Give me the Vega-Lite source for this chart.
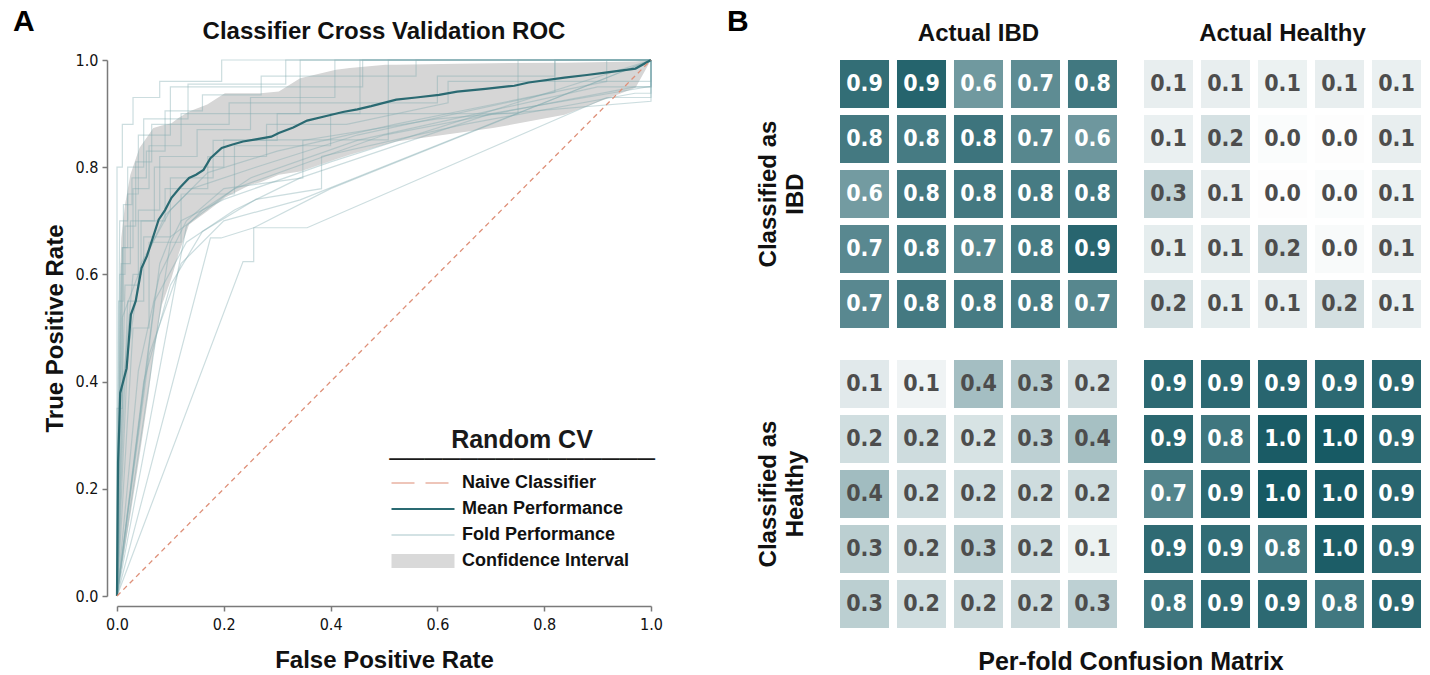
{
  "$schema": "https://vega.github.io/schema/vega-lite/v6.json",
  "background": "#ffffff",
  "padding": {"left": 13, "top": 7, "right": 5, "bottom": 2},
  "title": {"text": "A", "anchor": "start", "frame": "bounds", "fontSize": 30, "fontWeight": "bold", "font": "Liberation Sans", "color": "#000000", "dx": -30, "dy": 30, "offset": 0},
  "config": {
    "view": {"stroke": null},
    "font": "Liberation Sans",
    "axis": {
      "grid": false,
      "labelFlush": false,
      "domainColor": "#7a7a7a",
      "domainWidth": 1.5,
      "tickColor": "#7a7a7a",
      "tickWidth": 1.5,
      "tickSize": 5,
      "labelFont": "Liberation Sans Narrow, DejaVu Sans Condensed, sans-serif",
      "labelFontSize": 16,
      "labelColor": "#111111",
      "titleFont": "Liberation Sans",
      "titleFontSize": 24,
      "titleFontWeight": "bold",
      "titleColor": "#111111"
    }
  },
  "datasets": {
    "naive": [
      {"series": "Naive Classifier", "fpr": 0, "tpr": 0},
      {"series": "Naive Classifier", "fpr": 1, "tpr": 1}
    ],
    "mean": [
      {"series": "Mean Performance", "fpr": 0, "tpr": 0},
      {"series": "Mean Performance", "fpr": 0.001, "tpr": 0.13},
      {"series": "Mean Performance", "fpr": 0.002, "tpr": 0.25},
      {"series": "Mean Performance", "fpr": 0.004, "tpr": 0.31},
      {"series": "Mean Performance", "fpr": 0.006, "tpr": 0.379},
      {"series": "Mean Performance", "fpr": 0.018, "tpr": 0.425},
      {"series": "Mean Performance", "fpr": 0.026, "tpr": 0.525},
      {"series": "Mean Performance", "fpr": 0.035, "tpr": 0.55},
      {"series": "Mean Performance", "fpr": 0.046, "tpr": 0.612},
      {"series": "Mean Performance", "fpr": 0.056, "tpr": 0.634},
      {"series": "Mean Performance", "fpr": 0.066, "tpr": 0.665},
      {"series": "Mean Performance", "fpr": 0.078, "tpr": 0.702},
      {"series": "Mean Performance", "fpr": 0.09, "tpr": 0.72},
      {"series": "Mean Performance", "fpr": 0.102, "tpr": 0.743},
      {"series": "Mean Performance", "fpr": 0.118, "tpr": 0.762},
      {"series": "Mean Performance", "fpr": 0.135, "tpr": 0.78},
      {"series": "Mean Performance", "fpr": 0.148, "tpr": 0.786},
      {"series": "Mean Performance", "fpr": 0.162, "tpr": 0.795},
      {"series": "Mean Performance", "fpr": 0.175, "tpr": 0.817},
      {"series": "Mean Performance", "fpr": 0.196, "tpr": 0.836},
      {"series": "Mean Performance", "fpr": 0.215, "tpr": 0.842},
      {"series": "Mean Performance", "fpr": 0.236, "tpr": 0.848},
      {"series": "Mean Performance", "fpr": 0.26, "tpr": 0.852},
      {"series": "Mean Performance", "fpr": 0.289, "tpr": 0.857},
      {"series": "Mean Performance", "fpr": 0.303, "tpr": 0.864},
      {"series": "Mean Performance", "fpr": 0.33, "tpr": 0.874},
      {"series": "Mean Performance", "fpr": 0.356, "tpr": 0.887},
      {"series": "Mean Performance", "fpr": 0.39, "tpr": 0.895},
      {"series": "Mean Performance", "fpr": 0.423, "tpr": 0.903},
      {"series": "Mean Performance", "fpr": 0.45, "tpr": 0.908},
      {"series": "Mean Performance", "fpr": 0.476, "tpr": 0.914},
      {"series": "Mean Performance", "fpr": 0.523, "tpr": 0.926},
      {"series": "Mean Performance", "fpr": 0.56, "tpr": 0.93},
      {"series": "Mean Performance", "fpr": 0.603, "tpr": 0.935},
      {"series": "Mean Performance", "fpr": 0.637, "tpr": 0.941},
      {"series": "Mean Performance", "fpr": 0.69, "tpr": 0.946},
      {"series": "Mean Performance", "fpr": 0.744, "tpr": 0.952},
      {"series": "Mean Performance", "fpr": 0.771, "tpr": 0.958},
      {"series": "Mean Performance", "fpr": 0.838, "tpr": 0.967},
      {"series": "Mean Performance", "fpr": 0.88, "tpr": 0.972},
      {"series": "Mean Performance", "fpr": 0.918, "tpr": 0.977},
      {"series": "Mean Performance", "fpr": 0.971, "tpr": 0.984},
      {"series": "Mean Performance", "fpr": 1, "tpr": 1}
    ],
    "ci": [
      {"fpr": 0, "lo": 0, "hi": 0},
      {"fpr": 0.002, "lo": 0.012, "hi": 0.25},
      {"fpr": 0.004, "lo": 0.024, "hi": 0.45},
      {"fpr": 0.006, "lo": 0.036, "hi": 0.6},
      {"fpr": 0.008, "lo": 0.048, "hi": 0.668},
      {"fpr": 0.015, "lo": 0.09, "hi": 0.73},
      {"fpr": 0.025, "lo": 0.15, "hi": 0.786},
      {"fpr": 0.042, "lo": 0.26, "hi": 0.836},
      {"fpr": 0.059, "lo": 0.376, "hi": 0.86},
      {"fpr": 0.068, "lo": 0.45, "hi": 0.873},
      {"fpr": 0.084, "lo": 0.543, "hi": 0.878},
      {"fpr": 0.102, "lo": 0.593, "hi": 0.882},
      {"fpr": 0.115, "lo": 0.637, "hi": 0.892},
      {"fpr": 0.135, "lo": 0.693, "hi": 0.904},
      {"fpr": 0.169, "lo": 0.718, "hi": 0.917},
      {"fpr": 0.202, "lo": 0.743, "hi": 0.938},
      {"fpr": 0.249, "lo": 0.767, "hi": 0.938},
      {"fpr": 0.269, "lo": 0.772, "hi": 0.938},
      {"fpr": 0.303, "lo": 0.786, "hi": 0.941},
      {"fpr": 0.343, "lo": 0.792, "hi": 0.966},
      {"fpr": 0.41, "lo": 0.815, "hi": 0.982},
      {"fpr": 0.436, "lo": 0.823, "hi": 0.985},
      {"fpr": 0.503, "lo": 0.843, "hi": 0.991},
      {"fpr": 0.523, "lo": 0.848, "hi": 0.991},
      {"fpr": 0.637, "lo": 0.864, "hi": 0.993},
      {"fpr": 0.704, "lo": 0.873, "hi": 0.994},
      {"fpr": 0.838, "lo": 0.898, "hi": 0.995},
      {"fpr": 0.971, "lo": 0.948, "hi": 0.997},
      {"fpr": 1, "lo": 1, "hi": 1}
    ],
    "folds": [
      {"fold": 1, "series": "Fold Performance", "fpr": 0, "tpr": 0},
      {"fold": 1, "series": "Fold Performance", "fpr": 0, "tpr": 0.8},
      {"fold": 1, "series": "Fold Performance", "fpr": 0.01, "tpr": 0.8},
      {"fold": 1, "series": "Fold Performance", "fpr": 0.01, "tpr": 0.88},
      {"fold": 1, "series": "Fold Performance", "fpr": 0.03, "tpr": 0.88},
      {"fold": 1, "series": "Fold Performance", "fpr": 0.03, "tpr": 0.93},
      {"fold": 1, "series": "Fold Performance", "fpr": 0.08, "tpr": 0.93},
      {"fold": 1, "series": "Fold Performance", "fpr": 0.08, "tpr": 0.96},
      {"fold": 1, "series": "Fold Performance", "fpr": 0.196, "tpr": 0.96},
      {"fold": 1, "series": "Fold Performance", "fpr": 0.196, "tpr": 1},
      {"fold": 1, "series": "Fold Performance", "fpr": 1, "tpr": 1},
      {"fold": 2, "series": "Fold Performance", "fpr": 0, "tpr": 0},
      {"fold": 2, "series": "Fold Performance", "fpr": 0.005, "tpr": 0.7},
      {"fold": 2, "series": "Fold Performance", "fpr": 0.02, "tpr": 0.7},
      {"fold": 2, "series": "Fold Performance", "fpr": 0.02, "tpr": 0.8},
      {"fold": 2, "series": "Fold Performance", "fpr": 0.05, "tpr": 0.8},
      {"fold": 2, "series": "Fold Performance", "fpr": 0.05, "tpr": 0.89},
      {"fold": 2, "series": "Fold Performance", "fpr": 0.133, "tpr": 0.89},
      {"fold": 2, "series": "Fold Performance", "fpr": 0.133, "tpr": 0.955},
      {"fold": 2, "series": "Fold Performance", "fpr": 0.316, "tpr": 0.955},
      {"fold": 2, "series": "Fold Performance", "fpr": 0.316, "tpr": 1},
      {"fold": 2, "series": "Fold Performance", "fpr": 1, "tpr": 1},
      {"fold": 3, "series": "Fold Performance", "fpr": 0, "tpr": 0},
      {"fold": 3, "series": "Fold Performance", "fpr": 0.01, "tpr": 0.65},
      {"fold": 3, "series": "Fold Performance", "fpr": 0.03, "tpr": 0.65},
      {"fold": 3, "series": "Fold Performance", "fpr": 0.03, "tpr": 0.76},
      {"fold": 3, "series": "Fold Performance", "fpr": 0.06, "tpr": 0.76},
      {"fold": 3, "series": "Fold Performance", "fpr": 0.06, "tpr": 0.84},
      {"fold": 3, "series": "Fold Performance", "fpr": 0.12, "tpr": 0.84},
      {"fold": 3, "series": "Fold Performance", "fpr": 0.12, "tpr": 0.9},
      {"fold": 3, "series": "Fold Performance", "fpr": 0.343, "tpr": 0.9},
      {"fold": 3, "series": "Fold Performance", "fpr": 0.343, "tpr": 1},
      {"fold": 3, "series": "Fold Performance", "fpr": 1, "tpr": 1},
      {"fold": 4, "series": "Fold Performance", "fpr": 0, "tpr": 0},
      {"fold": 4, "series": "Fold Performance", "fpr": 0.015, "tpr": 0.58},
      {"fold": 4, "series": "Fold Performance", "fpr": 0.04, "tpr": 0.58},
      {"fold": 4, "series": "Fold Performance", "fpr": 0.04, "tpr": 0.72},
      {"fold": 4, "series": "Fold Performance", "fpr": 0.08, "tpr": 0.72},
      {"fold": 4, "series": "Fold Performance", "fpr": 0.08, "tpr": 0.82},
      {"fold": 4, "series": "Fold Performance", "fpr": 0.15, "tpr": 0.82},
      {"fold": 4, "series": "Fold Performance", "fpr": 0.15, "tpr": 0.87},
      {"fold": 4, "series": "Fold Performance", "fpr": 0.25, "tpr": 0.87},
      {"fold": 4, "series": "Fold Performance", "fpr": 0.25, "tpr": 0.93},
      {"fold": 4, "series": "Fold Performance", "fpr": 0.408, "tpr": 0.93},
      {"fold": 4, "series": "Fold Performance", "fpr": 0.408, "tpr": 1},
      {"fold": 4, "series": "Fold Performance", "fpr": 1, "tpr": 1},
      {"fold": 5, "series": "Fold Performance", "fpr": 0, "tpr": 0},
      {"fold": 5, "series": "Fold Performance", "fpr": 0.02, "tpr": 0.55},
      {"fold": 5, "series": "Fold Performance", "fpr": 0.05, "tpr": 0.55},
      {"fold": 5, "series": "Fold Performance", "fpr": 0.05, "tpr": 0.67},
      {"fold": 5, "series": "Fold Performance", "fpr": 0.1, "tpr": 0.67},
      {"fold": 5, "series": "Fold Performance", "fpr": 0.1, "tpr": 0.78},
      {"fold": 5, "series": "Fold Performance", "fpr": 0.18, "tpr": 0.78},
      {"fold": 5, "series": "Fold Performance", "fpr": 0.18, "tpr": 0.85},
      {"fold": 5, "series": "Fold Performance", "fpr": 0.3, "tpr": 0.85},
      {"fold": 5, "series": "Fold Performance", "fpr": 0.3, "tpr": 0.9},
      {"fold": 5, "series": "Fold Performance", "fpr": 0.455, "tpr": 0.9},
      {"fold": 5, "series": "Fold Performance", "fpr": 0.455, "tpr": 1},
      {"fold": 5, "series": "Fold Performance", "fpr": 1, "tpr": 1},
      {"fold": 6, "series": "Fold Performance", "fpr": 0, "tpr": 0},
      {"fold": 6, "series": "Fold Performance", "fpr": 0.008, "tpr": 0.62},
      {"fold": 6, "series": "Fold Performance", "fpr": 0.025, "tpr": 0.62},
      {"fold": 6, "series": "Fold Performance", "fpr": 0.025, "tpr": 0.7},
      {"fold": 6, "series": "Fold Performance", "fpr": 0.07, "tpr": 0.7},
      {"fold": 6, "series": "Fold Performance", "fpr": 0.07, "tpr": 0.8},
      {"fold": 6, "series": "Fold Performance", "fpr": 0.2, "tpr": 0.8},
      {"fold": 6, "series": "Fold Performance", "fpr": 0.2, "tpr": 0.851},
      {"fold": 6, "series": "Fold Performance", "fpr": 0.508, "tpr": 0.851},
      {"fold": 6, "series": "Fold Performance", "fpr": 0.508, "tpr": 1},
      {"fold": 6, "series": "Fold Performance", "fpr": 1, "tpr": 1},
      {"fold": 7, "series": "Fold Performance", "fpr": 0, "tpr": 0},
      {"fold": 7, "series": "Fold Performance", "fpr": 0.03, "tpr": 0.5},
      {"fold": 7, "series": "Fold Performance", "fpr": 0.06, "tpr": 0.5},
      {"fold": 7, "series": "Fold Performance", "fpr": 0.06, "tpr": 0.66},
      {"fold": 7, "series": "Fold Performance", "fpr": 0.12, "tpr": 0.66},
      {"fold": 7, "series": "Fold Performance", "fpr": 0.12, "tpr": 0.75},
      {"fold": 7, "series": "Fold Performance", "fpr": 0.22, "tpr": 0.75},
      {"fold": 7, "series": "Fold Performance", "fpr": 0.22, "tpr": 0.84},
      {"fold": 7, "series": "Fold Performance", "fpr": 0.4, "tpr": 0.84},
      {"fold": 7, "series": "Fold Performance", "fpr": 0.4, "tpr": 0.9},
      {"fold": 7, "series": "Fold Performance", "fpr": 0.751, "tpr": 0.9},
      {"fold": 7, "series": "Fold Performance", "fpr": 0.751, "tpr": 1},
      {"fold": 7, "series": "Fold Performance", "fpr": 1, "tpr": 1},
      {"fold": 8, "series": "Fold Performance", "fpr": 0, "tpr": 0},
      {"fold": 8, "series": "Fold Performance", "fpr": 0.01, "tpr": 0.52},
      {"fold": 8, "series": "Fold Performance", "fpr": 0.04, "tpr": 0.6},
      {"fold": 8, "series": "Fold Performance", "fpr": 0.09, "tpr": 0.71},
      {"fold": 8, "series": "Fold Performance", "fpr": 0.14, "tpr": 0.76},
      {"fold": 8, "series": "Fold Performance", "fpr": 0.26, "tpr": 0.8},
      {"fold": 8, "series": "Fold Performance", "fpr": 0.45, "tpr": 0.86},
      {"fold": 8, "series": "Fold Performance", "fpr": 0.82, "tpr": 0.94},
      {"fold": 8, "series": "Fold Performance", "fpr": 0.82, "tpr": 1},
      {"fold": 8, "series": "Fold Performance", "fpr": 1, "tpr": 1},
      {"fold": 9, "series": "Fold Performance", "fpr": 0, "tpr": 0},
      {"fold": 9, "series": "Fold Performance", "fpr": 0.02, "tpr": 0.45},
      {"fold": 9, "series": "Fold Performance", "fpr": 0.045, "tpr": 0.62},
      {"fold": 9, "series": "Fold Performance", "fpr": 0.1, "tpr": 0.72},
      {"fold": 9, "series": "Fold Performance", "fpr": 0.17, "tpr": 0.79},
      {"fold": 9, "series": "Fold Performance", "fpr": 0.3, "tpr": 0.83},
      {"fold": 9, "series": "Fold Performance", "fpr": 0.52, "tpr": 0.88},
      {"fold": 9, "series": "Fold Performance", "fpr": 0.917, "tpr": 0.96},
      {"fold": 9, "series": "Fold Performance", "fpr": 0.917, "tpr": 1},
      {"fold": 9, "series": "Fold Performance", "fpr": 1, "tpr": 1},
      {"fold": 10, "series": "Fold Performance", "fpr": 0, "tpr": 0},
      {"fold": 10, "series": "Fold Performance", "fpr": 0.04, "tpr": 0.42},
      {"fold": 10, "series": "Fold Performance", "fpr": 0.08, "tpr": 0.6},
      {"fold": 10, "series": "Fold Performance", "fpr": 0.13, "tpr": 0.7},
      {"fold": 10, "series": "Fold Performance", "fpr": 0.2, "tpr": 0.76},
      {"fold": 10, "series": "Fold Performance", "fpr": 0.348, "tpr": 0.78},
      {"fold": 10, "series": "Fold Performance", "fpr": 0.348, "tpr": 0.85},
      {"fold": 10, "series": "Fold Performance", "fpr": 0.6, "tpr": 0.89},
      {"fold": 10, "series": "Fold Performance", "fpr": 1, "tpr": 0.923},
      {"fold": 10, "series": "Fold Performance", "fpr": 1, "tpr": 1},
      {"fold": 11, "series": "Fold Performance", "fpr": 0, "tpr": 0},
      {"fold": 11, "series": "Fold Performance", "fpr": 0.05, "tpr": 0.4},
      {"fold": 11, "series": "Fold Performance", "fpr": 0.1, "tpr": 0.58},
      {"fold": 11, "series": "Fold Performance", "fpr": 0.16, "tpr": 0.68},
      {"fold": 11, "series": "Fold Performance", "fpr": 0.26, "tpr": 0.74},
      {"fold": 11, "series": "Fold Performance", "fpr": 0.383, "tpr": 0.76},
      {"fold": 11, "series": "Fold Performance", "fpr": 0.383, "tpr": 0.82},
      {"fold": 11, "series": "Fold Performance", "fpr": 0.65, "tpr": 0.88},
      {"fold": 11, "series": "Fold Performance", "fpr": 0.97, "tpr": 0.938},
      {"fold": 11, "series": "Fold Performance", "fpr": 1, "tpr": 0.938},
      {"fold": 11, "series": "Fold Performance", "fpr": 1, "tpr": 1},
      {"fold": 12, "series": "Fold Performance", "fpr": 0, "tpr": 0},
      {"fold": 12, "series": "Fold Performance", "fpr": 0.06, "tpr": 0.45},
      {"fold": 12, "series": "Fold Performance", "fpr": 0.12, "tpr": 0.62},
      {"fold": 12, "series": "Fold Performance", "fpr": 0.2, "tpr": 0.7},
      {"fold": 12, "series": "Fold Performance", "fpr": 0.343, "tpr": 0.739},
      {"fold": 12, "series": "Fold Performance", "fpr": 1, "tpr": 1},
      {"fold": 13, "series": "Fold Performance", "fpr": 0, "tpr": 0},
      {"fold": 13, "series": "Fold Performance", "fpr": 0.07, "tpr": 0.55},
      {"fold": 13, "series": "Fold Performance", "fpr": 0.13, "tpr": 0.66},
      {"fold": 13, "series": "Fold Performance", "fpr": 0.22, "tpr": 0.72},
      {"fold": 13, "series": "Fold Performance", "fpr": 0.343, "tpr": 0.78},
      {"fold": 13, "series": "Fold Performance", "fpr": 0.7, "tpr": 0.9},
      {"fold": 13, "series": "Fold Performance", "fpr": 1, "tpr": 0.951},
      {"fold": 13, "series": "Fold Performance", "fpr": 1, "tpr": 1},
      {"fold": 14, "series": "Fold Performance", "fpr": 0, "tpr": 0},
      {"fold": 14, "series": "Fold Performance", "fpr": 0.175, "tpr": 0.668},
      {"fold": 14, "series": "Fold Performance", "fpr": 0.195, "tpr": 0.668},
      {"fold": 14, "series": "Fold Performance", "fpr": 0.256, "tpr": 0.687},
      {"fold": 14, "series": "Fold Performance", "fpr": 0.356, "tpr": 0.687},
      {"fold": 14, "series": "Fold Performance", "fpr": 0.917, "tpr": 0.93},
      {"fold": 14, "series": "Fold Performance", "fpr": 1, "tpr": 0.93},
      {"fold": 14, "series": "Fold Performance", "fpr": 1, "tpr": 1},
      {"fold": 15, "series": "Fold Performance", "fpr": 0, "tpr": 0},
      {"fold": 15, "series": "Fold Performance", "fpr": 0.236, "tpr": 0.624},
      {"fold": 15, "series": "Fold Performance", "fpr": 0.256, "tpr": 0.624},
      {"fold": 15, "series": "Fold Performance", "fpr": 0.256, "tpr": 0.687},
      {"fold": 15, "series": "Fold Performance", "fpr": 0.4, "tpr": 0.76},
      {"fold": 15, "series": "Fold Performance", "fpr": 1, "tpr": 1},
      {"fold": 16, "series": "Fold Performance", "fpr": 0, "tpr": 0},
      {"fold": 16, "series": "Fold Performance", "fpr": 0.13, "tpr": 0.69},
      {"fold": 16, "series": "Fold Performance", "fpr": 0.16, "tpr": 0.72},
      {"fold": 16, "series": "Fold Performance", "fpr": 0.25, "tpr": 0.78},
      {"fold": 16, "series": "Fold Performance", "fpr": 0.45, "tpr": 0.85},
      {"fold": 16, "series": "Fold Performance", "fpr": 0.9, "tpr": 0.95},
      {"fold": 16, "series": "Fold Performance", "fpr": 1, "tpr": 0.95},
      {"fold": 16, "series": "Fold Performance", "fpr": 1, "tpr": 1},
      {"fold": 17, "series": "Fold Performance", "fpr": 0, "tpr": 0},
      {"fold": 17, "series": "Fold Performance", "fpr": 0.1, "tpr": 0.66},
      {"fold": 17, "series": "Fold Performance", "fpr": 0.12, "tpr": 0.7},
      {"fold": 17, "series": "Fold Performance", "fpr": 0.2, "tpr": 0.74},
      {"fold": 17, "series": "Fold Performance", "fpr": 0.4, "tpr": 0.81},
      {"fold": 17, "series": "Fold Performance", "fpr": 1, "tpr": 1},
      {"fold": 18, "series": "Fold Performance", "fpr": 0, "tpr": 0},
      {"fold": 18, "series": "Fold Performance", "fpr": 0.08, "tpr": 0.62},
      {"fold": 18, "series": "Fold Performance", "fpr": 0.1, "tpr": 0.67},
      {"fold": 18, "series": "Fold Performance", "fpr": 0.22, "tpr": 0.76},
      {"fold": 18, "series": "Fold Performance", "fpr": 0.5, "tpr": 0.86},
      {"fold": 18, "series": "Fold Performance", "fpr": 0.97, "tpr": 0.95},
      {"fold": 18, "series": "Fold Performance", "fpr": 1, "tpr": 0.95},
      {"fold": 18, "series": "Fold Performance", "fpr": 1, "tpr": 1},
      {"fold": 19, "series": "Fold Performance", "fpr": 0, "tpr": 0},
      {"fold": 19, "series": "Fold Performance", "fpr": 0, "tpr": 0.35},
      {"fold": 19, "series": "Fold Performance", "fpr": 0.01, "tpr": 0.35},
      {"fold": 19, "series": "Fold Performance", "fpr": 0.01, "tpr": 0.65},
      {"fold": 19, "series": "Fold Performance", "fpr": 0.02, "tpr": 0.65},
      {"fold": 19, "series": "Fold Performance", "fpr": 0.02, "tpr": 0.75},
      {"fold": 19, "series": "Fold Performance", "fpr": 0.04, "tpr": 0.75},
      {"fold": 19, "series": "Fold Performance", "fpr": 0.04, "tpr": 0.86},
      {"fold": 19, "series": "Fold Performance", "fpr": 0.1, "tpr": 0.86},
      {"fold": 19, "series": "Fold Performance", "fpr": 0.1, "tpr": 0.95},
      {"fold": 19, "series": "Fold Performance", "fpr": 0.46, "tpr": 0.95},
      {"fold": 19, "series": "Fold Performance", "fpr": 0.46, "tpr": 1},
      {"fold": 19, "series": "Fold Performance", "fpr": 1, "tpr": 1},
      {"fold": 20, "series": "Fold Performance", "fpr": 0, "tpr": 0},
      {"fold": 20, "series": "Fold Performance", "fpr": 0.005, "tpr": 0.3},
      {"fold": 20, "series": "Fold Performance", "fpr": 0.005, "tpr": 0.6},
      {"fold": 20, "series": "Fold Performance", "fpr": 0.015, "tpr": 0.6},
      {"fold": 20, "series": "Fold Performance", "fpr": 0.015, "tpr": 0.69},
      {"fold": 20, "series": "Fold Performance", "fpr": 0.035, "tpr": 0.69},
      {"fold": 20, "series": "Fold Performance", "fpr": 0.035, "tpr": 0.81},
      {"fold": 20, "series": "Fold Performance", "fpr": 0.065, "tpr": 0.81},
      {"fold": 20, "series": "Fold Performance", "fpr": 0.065, "tpr": 0.88},
      {"fold": 20, "series": "Fold Performance", "fpr": 0.21, "tpr": 0.88},
      {"fold": 20, "series": "Fold Performance", "fpr": 0.21, "tpr": 0.92},
      {"fold": 20, "series": "Fold Performance", "fpr": 0.6, "tpr": 0.92},
      {"fold": 20, "series": "Fold Performance", "fpr": 0.6, "tpr": 0.97},
      {"fold": 20, "series": "Fold Performance", "fpr": 0.82, "tpr": 0.97},
      {"fold": 20, "series": "Fold Performance", "fpr": 0.82, "tpr": 1},
      {"fold": 20, "series": "Fold Performance", "fpr": 1, "tpr": 1},
      {"fold": 21, "series": "Fold Performance", "fpr": 0, "tpr": 0},
      {"fold": 21, "series": "Fold Performance", "fpr": 0.003, "tpr": 0.55},
      {"fold": 21, "series": "Fold Performance", "fpr": 0.012, "tpr": 0.55},
      {"fold": 21, "series": "Fold Performance", "fpr": 0.012, "tpr": 0.73},
      {"fold": 21, "series": "Fold Performance", "fpr": 0.028, "tpr": 0.73},
      {"fold": 21, "series": "Fold Performance", "fpr": 0.028, "tpr": 0.78},
      {"fold": 21, "series": "Fold Performance", "fpr": 0.055, "tpr": 0.78},
      {"fold": 21, "series": "Fold Performance", "fpr": 0.055, "tpr": 0.83},
      {"fold": 21, "series": "Fold Performance", "fpr": 0.09, "tpr": 0.83},
      {"fold": 21, "series": "Fold Performance", "fpr": 0.09, "tpr": 0.905},
      {"fold": 21, "series": "Fold Performance", "fpr": 0.16, "tpr": 0.905},
      {"fold": 21, "series": "Fold Performance", "fpr": 0.16, "tpr": 0.935},
      {"fold": 21, "series": "Fold Performance", "fpr": 0.27, "tpr": 0.935},
      {"fold": 21, "series": "Fold Performance", "fpr": 0.27, "tpr": 0.97},
      {"fold": 21, "series": "Fold Performance", "fpr": 0.56, "tpr": 0.97},
      {"fold": 21, "series": "Fold Performance", "fpr": 0.56, "tpr": 1},
      {"fold": 21, "series": "Fold Performance", "fpr": 1, "tpr": 1},
      {"fold": 22, "series": "Fold Performance", "fpr": 0, "tpr": 0},
      {"fold": 22, "series": "Fold Performance", "fpr": 0.012, "tpr": 0.4},
      {"fold": 22, "series": "Fold Performance", "fpr": 0.03, "tpr": 0.6},
      {"fold": 22, "series": "Fold Performance", "fpr": 0.045, "tpr": 0.6},
      {"fold": 22, "series": "Fold Performance", "fpr": 0.045, "tpr": 0.7},
      {"fold": 22, "series": "Fold Performance", "fpr": 0.09, "tpr": 0.7},
      {"fold": 22, "series": "Fold Performance", "fpr": 0.09, "tpr": 0.76},
      {"fold": 22, "series": "Fold Performance", "fpr": 0.17, "tpr": 0.76},
      {"fold": 22, "series": "Fold Performance", "fpr": 0.17, "tpr": 0.82},
      {"fold": 22, "series": "Fold Performance", "fpr": 0.28, "tpr": 0.82},
      {"fold": 22, "series": "Fold Performance", "fpr": 0.28, "tpr": 0.88},
      {"fold": 22, "series": "Fold Performance", "fpr": 0.43, "tpr": 0.88},
      {"fold": 22, "series": "Fold Performance", "fpr": 0.62, "tpr": 0.92},
      {"fold": 22, "series": "Fold Performance", "fpr": 0.62, "tpr": 0.96},
      {"fold": 22, "series": "Fold Performance", "fpr": 1, "tpr": 0.96},
      {"fold": 22, "series": "Fold Performance", "fpr": 1, "tpr": 1}
    ],
    "cm": [
      {"actual": "Actual IBD", "pred": "IBD", "row": 1, "col": 1, "v": 0.87},
      {"actual": "Actual IBD", "pred": "IBD", "row": 1, "col": 2, "v": 0.93},
      {"actual": "Actual IBD", "pred": "IBD", "row": 1, "col": 3, "v": 0.61},
      {"actual": "Actual IBD", "pred": "IBD", "row": 1, "col": 4, "v": 0.69},
      {"actual": "Actual IBD", "pred": "IBD", "row": 1, "col": 5, "v": 0.81},
      {"actual": "Actual IBD", "pred": "IBD", "row": 2, "col": 1, "v": 0.80},
      {"actual": "Actual IBD", "pred": "IBD", "row": 2, "col": 2, "v": 0.79},
      {"actual": "Actual IBD", "pred": "IBD", "row": 2, "col": 3, "v": 0.83},
      {"actual": "Actual IBD", "pred": "IBD", "row": 2, "col": 4, "v": 0.72},
      {"actual": "Actual IBD", "pred": "IBD", "row": 2, "col": 5, "v": 0.62},
      {"actual": "Actual IBD", "pred": "IBD", "row": 3, "col": 1, "v": 0.60},
      {"actual": "Actual IBD", "pred": "IBD", "row": 3, "col": 2, "v": 0.80},
      {"actual": "Actual IBD", "pred": "IBD", "row": 3, "col": 3, "v": 0.80},
      {"actual": "Actual IBD", "pred": "IBD", "row": 3, "col": 4, "v": 0.79},
      {"actual": "Actual IBD", "pred": "IBD", "row": 3, "col": 5, "v": 0.80},
      {"actual": "Actual IBD", "pred": "IBD", "row": 4, "col": 1, "v": 0.71},
      {"actual": "Actual IBD", "pred": "IBD", "row": 4, "col": 2, "v": 0.78},
      {"actual": "Actual IBD", "pred": "IBD", "row": 4, "col": 3, "v": 0.72},
      {"actual": "Actual IBD", "pred": "IBD", "row": 4, "col": 4, "v": 0.79},
      {"actual": "Actual IBD", "pred": "IBD", "row": 4, "col": 5, "v": 0.92},
      {"actual": "Actual IBD", "pred": "IBD", "row": 5, "col": 1, "v": 0.71},
      {"actual": "Actual IBD", "pred": "IBD", "row": 5, "col": 2, "v": 0.80},
      {"actual": "Actual IBD", "pred": "IBD", "row": 5, "col": 3, "v": 0.79},
      {"actual": "Actual IBD", "pred": "IBD", "row": 5, "col": 4, "v": 0.78},
      {"actual": "Actual IBD", "pred": "IBD", "row": 5, "col": 5, "v": 0.72},
      {"actual": "Actual Healthy", "pred": "IBD", "row": 1, "col": 1, "v": 0.10},
      {"actual": "Actual Healthy", "pred": "IBD", "row": 1, "col": 2, "v": 0.10},
      {"actual": "Actual Healthy", "pred": "IBD", "row": 1, "col": 3, "v": 0.08},
      {"actual": "Actual Healthy", "pred": "IBD", "row": 1, "col": 4, "v": 0.10},
      {"actual": "Actual Healthy", "pred": "IBD", "row": 1, "col": 5, "v": 0.09},
      {"actual": "Actual Healthy", "pred": "IBD", "row": 2, "col": 1, "v": 0.09},
      {"actual": "Actual Healthy", "pred": "IBD", "row": 2, "col": 2, "v": 0.18},
      {"actual": "Actual Healthy", "pred": "IBD", "row": 2, "col": 3, "v": 0.02},
      {"actual": "Actual Healthy", "pred": "IBD", "row": 2, "col": 4, "v": 0.01},
      {"actual": "Actual Healthy", "pred": "IBD", "row": 2, "col": 5, "v": 0.10},
      {"actual": "Actual Healthy", "pred": "IBD", "row": 3, "col": 1, "v": 0.27},
      {"actual": "Actual Healthy", "pred": "IBD", "row": 3, "col": 2, "v": 0.10},
      {"actual": "Actual Healthy", "pred": "IBD", "row": 3, "col": 3, "v": 0.01},
      {"actual": "Actual Healthy", "pred": "IBD", "row": 3, "col": 4, "v": 0.02},
      {"actual": "Actual Healthy", "pred": "IBD", "row": 3, "col": 5, "v": 0.08},
      {"actual": "Actual Healthy", "pred": "IBD", "row": 4, "col": 1, "v": 0.11},
      {"actual": "Actual Healthy", "pred": "IBD", "row": 4, "col": 2, "v": 0.12},
      {"actual": "Actual Healthy", "pred": "IBD", "row": 4, "col": 3, "v": 0.19},
      {"actual": "Actual Healthy", "pred": "IBD", "row": 4, "col": 4, "v": 0.03},
      {"actual": "Actual Healthy", "pred": "IBD", "row": 4, "col": 5, "v": 0.10},
      {"actual": "Actual Healthy", "pred": "IBD", "row": 5, "col": 1, "v": 0.18},
      {"actual": "Actual Healthy", "pred": "IBD", "row": 5, "col": 2, "v": 0.11},
      {"actual": "Actual Healthy", "pred": "IBD", "row": 5, "col": 3, "v": 0.10},
      {"actual": "Actual Healthy", "pred": "IBD", "row": 5, "col": 4, "v": 0.19},
      {"actual": "Actual Healthy", "pred": "IBD", "row": 5, "col": 5, "v": 0.09},
      {"actual": "Actual IBD", "pred": "Healthy", "row": 1, "col": 1, "v": 0.13},
      {"actual": "Actual IBD", "pred": "Healthy", "row": 1, "col": 2, "v": 0.07},
      {"actual": "Actual IBD", "pred": "Healthy", "row": 1, "col": 3, "v": 0.39},
      {"actual": "Actual IBD", "pred": "Healthy", "row": 1, "col": 4, "v": 0.31},
      {"actual": "Actual IBD", "pred": "Healthy", "row": 1, "col": 5, "v": 0.19},
      {"actual": "Actual IBD", "pred": "Healthy", "row": 2, "col": 1, "v": 0.20},
      {"actual": "Actual IBD", "pred": "Healthy", "row": 2, "col": 2, "v": 0.21},
      {"actual": "Actual IBD", "pred": "Healthy", "row": 2, "col": 3, "v": 0.17},
      {"actual": "Actual IBD", "pred": "Healthy", "row": 2, "col": 4, "v": 0.28},
      {"actual": "Actual IBD", "pred": "Healthy", "row": 2, "col": 5, "v": 0.38},
      {"actual": "Actual IBD", "pred": "Healthy", "row": 3, "col": 1, "v": 0.40},
      {"actual": "Actual IBD", "pred": "Healthy", "row": 3, "col": 2, "v": 0.20},
      {"actual": "Actual IBD", "pred": "Healthy", "row": 3, "col": 3, "v": 0.20},
      {"actual": "Actual IBD", "pred": "Healthy", "row": 3, "col": 4, "v": 0.21},
      {"actual": "Actual IBD", "pred": "Healthy", "row": 3, "col": 5, "v": 0.20},
      {"actual": "Actual IBD", "pred": "Healthy", "row": 4, "col": 1, "v": 0.29},
      {"actual": "Actual IBD", "pred": "Healthy", "row": 4, "col": 2, "v": 0.22},
      {"actual": "Actual IBD", "pred": "Healthy", "row": 4, "col": 3, "v": 0.28},
      {"actual": "Actual IBD", "pred": "Healthy", "row": 4, "col": 4, "v": 0.21},
      {"actual": "Actual IBD", "pred": "Healthy", "row": 4, "col": 5, "v": 0.08},
      {"actual": "Actual IBD", "pred": "Healthy", "row": 5, "col": 1, "v": 0.29},
      {"actual": "Actual IBD", "pred": "Healthy", "row": 5, "col": 2, "v": 0.20},
      {"actual": "Actual IBD", "pred": "Healthy", "row": 5, "col": 3, "v": 0.21},
      {"actual": "Actual IBD", "pred": "Healthy", "row": 5, "col": 4, "v": 0.22},
      {"actual": "Actual IBD", "pred": "Healthy", "row": 5, "col": 5, "v": 0.28},
      {"actual": "Actual Healthy", "pred": "Healthy", "row": 1, "col": 1, "v": 0.90},
      {"actual": "Actual Healthy", "pred": "Healthy", "row": 1, "col": 2, "v": 0.90},
      {"actual": "Actual Healthy", "pred": "Healthy", "row": 1, "col": 3, "v": 0.92},
      {"actual": "Actual Healthy", "pred": "Healthy", "row": 1, "col": 4, "v": 0.90},
      {"actual": "Actual Healthy", "pred": "Healthy", "row": 1, "col": 5, "v": 0.91},
      {"actual": "Actual Healthy", "pred": "Healthy", "row": 2, "col": 1, "v": 0.91},
      {"actual": "Actual Healthy", "pred": "Healthy", "row": 2, "col": 2, "v": 0.82},
      {"actual": "Actual Healthy", "pred": "Healthy", "row": 2, "col": 3, "v": 0.98},
      {"actual": "Actual Healthy", "pred": "Healthy", "row": 2, "col": 4, "v": 0.99},
      {"actual": "Actual Healthy", "pred": "Healthy", "row": 2, "col": 5, "v": 0.90},
      {"actual": "Actual Healthy", "pred": "Healthy", "row": 3, "col": 1, "v": 0.73},
      {"actual": "Actual Healthy", "pred": "Healthy", "row": 3, "col": 2, "v": 0.90},
      {"actual": "Actual Healthy", "pred": "Healthy", "row": 3, "col": 3, "v": 0.99},
      {"actual": "Actual Healthy", "pred": "Healthy", "row": 3, "col": 4, "v": 0.98},
      {"actual": "Actual Healthy", "pred": "Healthy", "row": 3, "col": 5, "v": 0.92},
      {"actual": "Actual Healthy", "pred": "Healthy", "row": 4, "col": 1, "v": 0.89},
      {"actual": "Actual Healthy", "pred": "Healthy", "row": 4, "col": 2, "v": 0.88},
      {"actual": "Actual Healthy", "pred": "Healthy", "row": 4, "col": 3, "v": 0.81},
      {"actual": "Actual Healthy", "pred": "Healthy", "row": 4, "col": 4, "v": 0.97},
      {"actual": "Actual Healthy", "pred": "Healthy", "row": 4, "col": 5, "v": 0.90},
      {"actual": "Actual Healthy", "pred": "Healthy", "row": 5, "col": 1, "v": 0.82},
      {"actual": "Actual Healthy", "pred": "Healthy", "row": 5, "col": 2, "v": 0.89},
      {"actual": "Actual Healthy", "pred": "Healthy", "row": 5, "col": 3, "v": 0.90},
      {"actual": "Actual Healthy", "pred": "Healthy", "row": 5, "col": 4, "v": 0.81},
      {"actual": "Actual Healthy", "pred": "Healthy", "row": 5, "col": 5, "v": 0.91}
    ]
  },
  "spacing": 63,
  "hconcat": [
    {
      "title": {"text": "Classifier Cross Validation ROC", "fontSize": 24, "fontWeight": "bold", "color": "#111111", "offset": 8},
      "width": 534,
      "height": 536,
      "layer": [
        {
          "data": {"name": "ci"},
          "mark": {"type": "area", "color": "#d6d6d6", "opacity": 1},
          "encoding": {
            "x": {"field": "fpr", "type": "quantitative", "title": "False Positive Rate", "scale": {"domain": [0, 1], "nice": false},
                  "axis": {"values": [0, 0.2, 0.4, 0.6, 0.8, 1], "format": ".1f", "offset": 10, "titlePadding": 16, "labelPadding": 5}},
            "y": {"field": "lo", "type": "quantitative", "title": "True Positive Rate", "scale": {"domain": [0, 1], "nice": false},
                  "axis": {"values": [0, 0.2, 0.4, 0.6, 0.8, 1], "format": ".1f", "offset": 10, "titlePadding": 8, "labelPadding": 4}},
            "y2": {"field": "hi"}
          }
        },
        {
          "data": {"name": "folds"},
          "mark": {"type": "line", "strokeWidth": 1.2, "strokeOpacity": 0.4},
          "encoding": {
            "x": {"field": "fpr", "type": "quantitative", "title": "False Positive Rate"},
            "y": {"field": "tpr", "type": "quantitative", "title": "True Positive Rate"},
            "detail": {"field": "fold", "type": "nominal"},
            "order": {"value": null},
            "stroke": {
              "field": "series",
              "type": "nominal",
              "scale": {"domain": ["Naive Classifier", "Mean Performance", "Fold Performance", "Confidence Interval"], "range": ["#de9079", "#2a6a72", "#7fa9af", "#d9d9d9"]},
              "legend": {
                "title": ["Random CV", "───────────────"],
                "orient": "none",
                "legendX": 272,
                "legendY": 368,
                "titleFont": "Liberation Sans",
                "titleFontSize": 25,
                "titleFontWeight": "bold",
                "titleColor": "#1a1a1a",
                "titleAnchor": "middle",
                "titleAlign": "center",
                "titleLineHeight": 19,
                "titlePadding": 2,
                "titleLimit": 1000,
                "labelFont": "Liberation Sans",
                "labelFontSize": 18,
                "labelFontWeight": "bold",
                "labelColor": "#111111",
                "labelLimit": 400,
                "symbolType": "stroke",
                "symbolSize": 3969,
                "symbolStrokeWidth": 2,
                "labelOffset": 30,
                "rowPadding": 8,
                "encode": {
                  "symbols": {
                    "update": {
                      "shape": {"signal": "datum.value === 'Confidence Interval' ? 'M-1,-0.22H1V0.22H-1Z' : 'stroke'"},
                      "fill": {"signal": "datum.value === 'Confidence Interval' ? '#d9d9d9' : 'transparent'"},
                      "strokeWidth": {"signal": "datum.value === 'Confidence Interval' ? 0 : datum.value === 'Mean Performance' ? 2.2 : 1.6"},
                      "strokeDash": {"signal": "datum.value === 'Naive Classifier' ? [23, 11] : []"},
                      "strokeOpacity": {"signal": "datum.value === 'Fold Performance' ? 0.45 : datum.value === 'Naive Classifier' ? 0.7 : 1"}
                    }
                  }
                }
              }
            }
          }
        },
        {
          "data": {"name": "mean"},
          "mark": {"type": "line", "strokeWidth": 2.2},
          "encoding": {
            "x": {"field": "fpr", "type": "quantitative", "title": "False Positive Rate"},
            "y": {"field": "tpr", "type": "quantitative", "title": "True Positive Rate"},
            "order": {"value": null},
            "stroke": {"field": "series", "type": "nominal"}
          }
        },
        {
          "data": {"name": "naive"},
          "mark": {"type": "line", "strokeWidth": 1.3, "strokeDash": [5, 4]},
          "encoding": {
            "x": {"field": "fpr", "type": "quantitative", "title": "False Positive Rate"},
            "y": {"field": "tpr", "type": "quantitative", "title": "True Positive Rate"},
            "stroke": {"field": "series", "type": "nominal"}
          }
        }
      ]
    },
    {
      "data": {"name": "cm"},
      "title": {"text": "B", "anchor": "start", "frame": "bounds", "fontSize": 30, "fontWeight": "bold", "color": "#000000", "dx": -30, "dy": 15, "offset": 0},
      "facet": {
        "column": {
          "field": "actual",
          "type": "nominal",
          "sort": ["Actual IBD", "Actual Healthy"],
          "title": "Per-fold Confusion Matrix",
          "header": {
            "labelOrient": "top",
            "labelFont": "Liberation Sans",
            "labelFontSize": 24,
            "labelFontWeight": "bold",
            "labelColor": "#111111",
            "labelPadding": 14,
            "titleOrient": "bottom",
            "titleFont": "Liberation Sans",
            "titleFontSize": 25,
            "titleFontWeight": "bold",
            "titleColor": "#111111",
            "titlePadding": 12
          }
        },
        "row": {
          "field": "pred",
          "type": "nominal",
          "sort": ["IBD", "Healthy"],
          "title": null,
          "header": {
            "labelAngle": -90,
            "labelOrient": "left",
            "labelExpr": "['Classified as', datum.value]",
            "labelFont": "Liberation Sans",
            "labelFontSize": 24,
            "labelFontWeight": "bold",
            "labelColor": "#111111",
            "labelLineHeight": 27,
            "labelPadding": 20
          }
        }
      },
      "spacing": {"row": 32, "column": 27},
      "spec": {
        "width": 277,
        "height": 268,
        "layer": [
          {
            "mark": {"type": "rect"},
            "encoding": {
              "x": {"field": "col", "type": "ordinal", "axis": null, "scale": {"paddingInner": 0.14, "paddingOuter": 0}},
              "y": {"field": "row", "type": "ordinal", "axis": null, "scale": {"paddingInner": 0.127, "paddingOuter": 0}},
              "fill": {"field": "v", "type": "quantitative", "scale": {"domain": [0, 1], "range": ["#ffffff", "#155862"], "interpolate": "rgb"}, "legend": null}
            }
          },
          {
            "mark": {"type": "text", "font": "Liberation Sans Narrow, DejaVu Sans Condensed, sans-serif", "fontSize": 23, "fontWeight": "bold"},
            "encoding": {
              "x": {"field": "col", "type": "ordinal", "axis": null},
              "y": {"field": "row", "type": "ordinal", "axis": null},
              "text": {"field": "v", "type": "quantitative", "format": ".1f"},
              "color": {"condition": {"test": "datum.v > 0.5", "value": "#ffffff"}, "value": "#4d4d4d"}
            }
          }
        ]
      }
    }
  ]
}
